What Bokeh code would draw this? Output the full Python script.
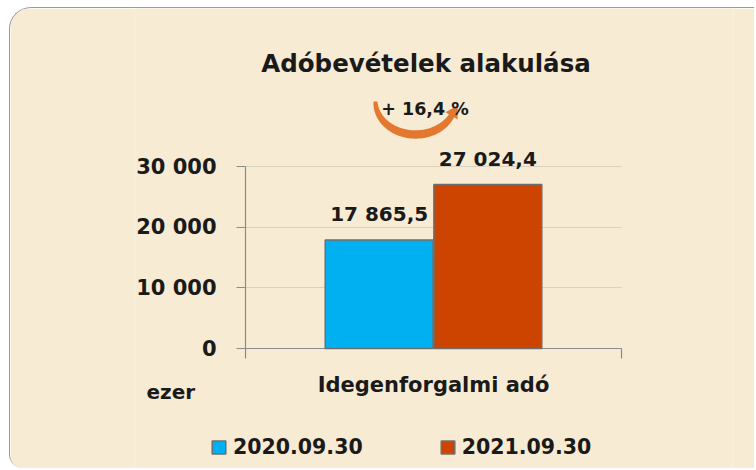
import numpy as np
from bokeh.plotting import figure
from bokeh.core.properties import value
from bokeh.models import (FactorRange, ColumnDataSource, LabelSet, Label, Legend, LegendItem,
                          PolyAnnotation, Range1d, FixedTicker, Grid)
from bokeh.transform import dodge
from bokeh.embed import file_html
from bokeh.resources import INLINE

# ---- data ----
categories = ["Idegenforgalmi adó"]
series_names = ["2020.09.30", "2021.09.30"]
values_2020 = [17865.5]
values_2021 = [27024.4]
series_colors = ["#00B0F0", "#CC4400"]
y_ticks = [0, 10000, 20000, 30000]
y_tick_labels = ["0", "10 000", "20 000", "30 000"]
title_text = "Adóbevételek alakulása"
change_text = "+ 16,4 %"
unit_text = "ezer"


def fmt(v):
    s = f"{v:,.1f}"
    return s.replace(",", " ").replace(".", ",")


# ---- layout (pixels of the 756x470 page) ----
OX, OY = 9, 7                     # page position of the figure's top-left corner
W, H = 745, 461
FONT = "DejaVu Sans"
INK = "#1a1a1a"
AXIS = "#8C8C8C"
CAT_L, CAT_R = 244, 620           # page x of the category band
Y0_PX, Y30_PX = 347, 165          # page y of 0 and 30 000
PX_PER_UNIT = (Y0_PX - Y30_PX) / 30000.0
FRAME_L = 133 - OX                # figure px of the frame's left edge
PAD_PX = (CAT_L - OX) - FRAME_L   # symmetric padding on both sides
FRAME_R_BORDER = W - ((CAT_R - OX) + PAD_PX)


def xs(px):  # page x -> synthetic categorical coordinate
    return (px - CAT_L) / (CAT_R - CAT_L)


def yd(py):  # page y -> data value
    return (Y0_PX - py) / PX_PER_UNIT


source = ColumnDataSource(dict(
    cat=categories,
    v2020=values_2020,
    v2021=values_2021,
    l2020=[fmt(v) for v in values_2020],
    l2021=[fmt(v) for v in values_2021],
))

p = figure(width=W, height=H, title=None,
           x_range=FactorRange(factors=categories,
                               range_padding=2 * PAD_PX / (CAT_R - CAT_L)),
           y_range=Range1d(yd(OY + H), yd(OY)),
           output_backend="svg", toolbar_location=None,
           x_axis_location=None,
           min_border_left=FRAME_L, min_border_right=FRAME_R_BORDER,
           min_border_top=0, min_border_bottom=0)

BG = "#F8EBD3"
p.border_fill_color = BG
p.background_fill_color = BG
p.outline_line_color = None
p.styles = {"margin-left": f"{OX}px", "margin-top": f"{OY}px",
            "border-top": "1.5px solid #9A9A9A", "border-left": "1.5px solid #9A9A9A",
            "border-top-left-radius": "22px", "border-bottom-left-radius": "14px",
            "overflow": "hidden"}

# grid lines limited to the category band
p.xgrid.grid_line_color = None
p.ygrid.ticker = FixedTicker(ticks=y_ticks[1:])
p.ygrid.grid_line_color = "#D9D0C0"
p.ygrid.cross_bounds = (0, 1)
zero_line = Grid(dimension=1, ticker=FixedTicker(ticks=[0]), grid_line_color=AXIS,
                 grid_line_width=1.2, cross_bounds=(0, 1))
p.add_layout(zero_line)
edge_ticks = Grid(dimension=0, ticker=FixedTicker(ticks=[0, 1]), grid_line_color=AXIS,
                  grid_line_width=1.2, cross_bounds=(yd(Y0_PX + 10), 0))
p.add_layout(edge_ticks)

# bars
bw = 0.287
off = 0.1445
r1 = p.vbar(x=dodge("cat", -off, range=p.x_range), top="v2020", width=bw, source=source,
            fill_color=series_colors[0], line_color="#6E6E6E", line_width=1.5)
r2 = p.vbar(x=dodge("cat", off, range=p.x_range), top="v2021", width=bw, source=source,
            fill_color=series_colors[1], line_color="#6E6E6E", line_width=1.5)

# value labels
for key, o in (("2020", -off), ("2021", off)):
    p.add_layout(LabelSet(x=dodge("cat", o, range=p.x_range), y="v" + key, text="l" + key,
                          source=source, text_align="center", text_baseline="alphabetic",
                          y_offset=19, text_font=value(FONT), text_font_size="20px",
                          text_font_style="bold", text_color=INK))

# y axis (drawn at the left edge of the category band)
ya = p.yaxis[0]
ya.fixed_location = 0
ya.bounds = (0, 30000)
ya.ticker = FixedTicker(ticks=y_ticks)
ya.major_label_overrides = {t: l for t, l in zip(y_ticks, y_tick_labels)}
ya.major_label_text_font = FONT
ya.major_label_text_font_size = "21px"
ya.major_label_text_font_style = "bold"
ya.major_label_text_color = INK
ya.major_label_standoff = 20
ya.major_tick_out = 9
ya.major_tick_in = 0
ya.minor_tick_line_color = None
ya.axis_line_color = AXIS
ya.axis_line_width = 1.2
ya.major_tick_line_color = AXIS
ya.major_tick_line_width = 1.2

# category label and unit label
p.add_layout(LabelSet(x="cat", y=value(yd(390)), text="cat", source=source,
                      text_align="center", text_baseline="alphabetic",
                      text_font=value(FONT), text_font_size="21px",
                      text_font_style="bold", text_color=INK))
p.add_layout(Label(x=xs(145), y=yd(390), text=unit_text, text_align="left",
                   text_baseline="alphabetic", text_font=FONT, text_font_size="20px",
                   text_font_style="bold", text_color=INK))

# legend
legend = Legend(items=[LegendItem(label=series_names[0], renderers=[r1]),
                       LegendItem(label=series_names[1], renderers=[r2])],
                orientation="horizontal", location=(209 - OX - FRAME_L, 10),
                spacing=76, padding=0, margin=0,
                glyph_width=17, glyph_height=16, label_standoff=6,
                label_text_font=FONT, label_text_font_size="20.5px",
                label_text_font_style="bold", label_text_color=INK,
                background_fill_alpha=0, border_line_color=None)
p.add_layout(legend, "center")

# title
p.add_layout(Label(x=xs(424.5), y=yd(62), text=title_text, text_align="center",
                   text_baseline="alphabetic", text_font=FONT, text_font_size="24.5px",
                   text_font_style="bold", text_color=INK))

# curved arrow (decoration)
cx, cy, rx, ry = 414.0, 100.0, 40.0, 33.0
th = np.linspace(np.pi, 0.45, 60)
xc = cx + rx * np.cos(th)
yc = cy + ry * np.sin(th)
tx = rx * np.sin(th)
ty = -ry * np.cos(th)
nrm = np.hypot(tx, ty)
tx, ty = tx / nrm, ty / nrm
nx, ny = -ty, tx
u = np.linspace(0, 1, len(th))
hw = 2.0 + 2.2 * np.sin(np.pi * np.clip(u * 0.85, 0, 1))
outer_x = xc + nx * hw
outer_y = yc + ny * hw
inner_x = xc - nx * hw
inner_y = yc - ny * hw
ex, ey = xc[-1], yc[-1]
tdx, tdy = tx[-1], ty[-1]
ndx, ndy = -tdy, tdx
head = [(ex - ndx * 7.0, ey - ndy * 7.0), (ex + tdx * 12, ey + tdy * 12),
        (ex + ndx * 7.0, ey + ndy * 7.0)]
px = list(outer_x) + [head[2][0], head[1][0], head[0][0]] + list(inner_x[::-1])
py = list(outer_y) + [head[2][1], head[1][1], head[0][1]] + list(inner_y[::-1])
p.add_layout(PolyAnnotation(xs=[xs(v) for v in px], ys=[yd(v) for v in py],
                            fill_color="#E37830", fill_alpha=1.0, line_color=None))

p.add_layout(Label(x=xs(423.5), y=yd(107), text=change_text, text_align="center",
                   text_baseline="alphabetic", text_font=FONT, text_font_size="17.5px",
                   text_font_style="bold", text_color=INK))

open("out.html", "w").write(file_html(p, INLINE))
